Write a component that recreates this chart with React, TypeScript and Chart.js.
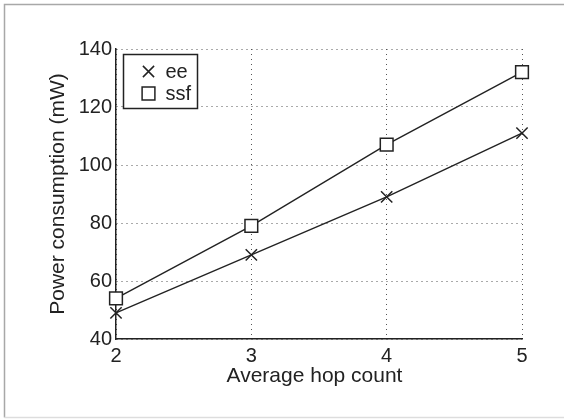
import React, { useEffect, useRef } from "react";
import { Chart, registerables } from "chart.js";

Chart.register(...registerables);

const hopCounts = [2, 3, 4, 5];
const eeValues = [49, 69, 89, 111];
const ssfValues = [54, 79, 107, 132];
const seriesLabels = ["ee", "ssf"];
const yTickValues = [40, 60, 80, 100, 120, 140];
const xTickValues = [2, 3, 4, 5];
const xTitle = "Average hop count";
const yTitle = "Power consumption (mW)";

const FONT = "'Liberation Sans', Arial, Helvetica, sans-serif";
const INK = "#222222";

function drawMarker(ctx: CanvasRenderingContext2D, style: string, x: number, y: number) {
  ctx.save();
  ctx.strokeStyle = INK;
  ctx.lineWidth = 1.5;
  if (style === "crossRot") {
    const h = 5.6;
    ctx.beginPath();
    ctx.moveTo(x - h, y - h);
    ctx.lineTo(x + h, y + h);
    ctx.moveTo(x + h, y - h);
    ctx.lineTo(x - h, y + h);
    ctx.stroke();
  } else {
    const h = 6.4;
    ctx.fillStyle = "#ffffff";
    ctx.beginPath();
    ctx.rect(x - h, y - h, 2 * h, 2 * h);
    ctx.fill();
    ctx.stroke();
  }
  ctx.restore();
}

export default function App() {
  const ref = useRef<HTMLCanvasElement>(null);

  useEffect(() => {
    if (!ref.current) return;

    const framePlugin = {
      id: "frame",
      beforeDraw(chart: any) {
        const ctx = chart.ctx as CanvasRenderingContext2D;
        ctx.save();
        ctx.fillStyle = "#ffffff";
        ctx.fillRect(0, 0, chart.width, chart.height);
        ctx.lineWidth = 1.5;
        ctx.strokeStyle = "#a8a8a8";
        ctx.beginPath();
        ctx.moveTo(4.5, 417.5);
        ctx.lineTo(4.5, 4.5);
        ctx.lineTo(chart.width, 4.5);
        ctx.stroke();
        ctx.strokeStyle = "#dddddd";
        ctx.beginPath();
        ctx.moveTo(4.5, 417.5);
        ctx.lineTo(chart.width, 417.5);
        ctx.stroke();
        ctx.restore();
      },
    };

    const titlesPlugin = {
      id: "axisTitles",
      afterDraw(chart: any) {
        const ctx = chart.ctx as CanvasRenderingContext2D;
        const area = chart.chartArea;
        ctx.save();
        ctx.fillStyle = INK;
        ctx.font = `21px ${FONT}`;
        ctx.textAlign = "center";
        ctx.textBaseline = "alphabetic";
        ctx.fillText(xTitle, (area.left + area.right) / 2 - 4.5, area.bottom + 42.5);
        ctx.translate(area.left - 52, (area.top + area.bottom) / 2);
        ctx.rotate(-Math.PI / 2);
        ctx.fillText(yTitle, 0, 0);
        ctx.restore();
      },
    };

    const legendPlugin = {
      id: "boxLegend",
      afterDraw(chart: any) {
        const ctx = chart.ctx as CanvasRenderingContext2D;
        const area = chart.chartArea;
        const left = area.left + 7.5;
        const top = area.top + 5.5;
        const w = 74;
        const h = 54;
        ctx.save();
        ctx.fillStyle = "#ffffff";
        ctx.strokeStyle = INK;
        ctx.lineWidth = 1.5;
        ctx.fillRect(left, top, w, h);
        ctx.strokeRect(left, top, w, h);
        ctx.font = `20px ${FONT}`;
        ctx.fillStyle = INK;
        ctx.textBaseline = "middle";
        ctx.textAlign = "left";
        chart.data.datasets.forEach((ds: any, i: number) => {
          const y = top + 17 + i * 22;
          drawMarker(ctx, ds.pointStyle, left + 25, y);
          ctx.fillText(ds.label, left + 42, y + 1);
        });
        ctx.restore();
      },
    };

    const chart = new Chart(ref.current, {
      type: "line",
      data: {
        datasets: [
          {
            label: seriesLabels[0],
            data: hopCounts.map((x, i) => ({ x, y: eeValues[i] })),
            borderColor: INK,
            borderWidth: 1.4,
            pointStyle: "crossRot",
            pointRadius: 8,
            pointBorderWidth: 1.5,
            pointBorderColor: INK,
            pointBackgroundColor: "#ffffff",
            tension: 0,
            clip: false as any,
          },
          {
            label: seriesLabels[1],
            data: hopCounts.map((x, i) => ({ x, y: ssfValues[i] })),
            borderColor: INK,
            borderWidth: 1.4,
            pointStyle: "rect",
            pointRadius: 9,
            pointBorderWidth: 1.5,
            pointBorderColor: INK,
            pointBackgroundColor: "#ffffff",
            tension: 0,
            clip: false as any,
          },
        ],
      },
      options: {
        animation: false,
        responsive: false,
        devicePixelRatio: 1,
        layout: { padding: { top: 49, right: 42, left: 0, bottom: 0 } },
        plugins: {
          legend: { display: false },
          tooltip: { enabled: false },
        },
        scales: {
          x: {
            type: "linear",
            min: 2,
            max: 5,
            afterBuildTicks: (s: any) => {
              s.ticks = xTickValues.map((v) => ({ value: v }));
            },
            afterFit: (s: any) => {
              s.height = 80;
            },
            grid: {
              color: "#555555",
              lineWidth: 1,
              drawTicks: false,
            },
            border: { display: true, color: INK, width: 1.5, dash: [1, 4] },
            ticks: {
              color: INK,
              font: { family: FONT, size: 20 },
              padding: 5,
              maxRotation: 0,
              callback: (v: any) => String(v),
            },
            title: { display: false },
          },
          y: {
            type: "linear",
            min: 40,
            max: 140,
            afterBuildTicks: (s: any) => {
              s.ticks = yTickValues.map((v) => ({ value: v }));
            },
            afterFit: (s: any) => {
              s.width = 116;
            },
            grid: {
              color: "#555555",
              lineWidth: 1,
              drawTicks: false,
            },
            border: { display: true, color: INK, width: 1.5, dash: [1, 4] },
            ticks: {
              color: INK,
              font: { family: FONT, size: 20 },
              padding: 4,
              callback: (v: any) => String(v),
            },
            title: { display: false },
          },
        },
      },
      plugins: [framePlugin, titlesPlugin, legendPlugin],
    } as any);

    return () => chart.destroy();
  }, []);

  return (
    <div style={{ position: "absolute", left: 0, top: 0, width: 564, height: 419 }}>
      <canvas ref={ref} width={564} height={419} style={{ width: 564, height: 419, display: "block" }} />
    </div>
  );
}
